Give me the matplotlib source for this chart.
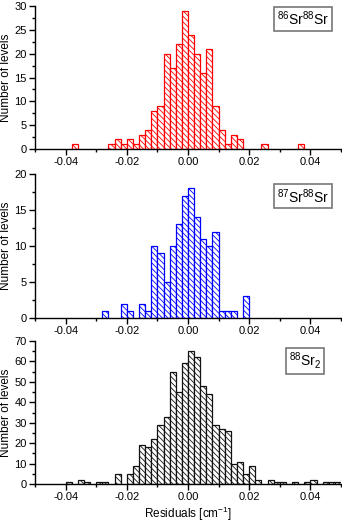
import matplotlib
matplotlib.use("Agg")
import matplotlib.pyplot as plt
from matplotlib.ticker import MultipleLocator

plt.rcParams['font.family'] = ['Liberation Sans', 'DejaVu Sans']
plt.rcParams['mathtext.default'] = 'regular'
plt.rcParams['hatch.linewidth'] = 0.6

bin_width = 0.002

# 86Sr88Sr
sr86_left = [-0.038, -0.026, -0.024, -0.022, -0.020, -0.018, -0.016, -0.014, -0.012,
             -0.010, -0.008, -0.006, -0.004, -0.002, 0.000, 0.002, 0.004, 0.006,
             0.008, 0.010, 0.012, 0.014, 0.016, 0.024, 0.036]
sr86_counts = [1, 1, 2, 1, 2, 1, 3, 4, 8,
               9, 20, 17, 22, 29, 24, 20, 16, 21,
               9, 4, 1, 3, 2, 1, 1]

# 87Sr88Sr
sr87_left = [-0.028, -0.022, -0.020, -0.016, -0.014, -0.012, -0.010, -0.008, -0.006,
             -0.004, -0.002, 0.000, 0.002, 0.004, 0.006, 0.008, 0.010, 0.012,
             0.014, 0.018]
sr87_counts = [1, 2, 1, 2, 1, 10, 9, 5, 10,
               13, 17, 18, 14, 11, 10, 12, 1, 1,
               1, 3]

# 88Sr2
sr88_left = [-0.040, -0.036, -0.034, -0.030, -0.028, -0.024, -0.020, -0.018, -0.016,
             -0.014, -0.012, -0.010, -0.008, -0.006, -0.004, -0.002, 0.000, 0.002,
             0.004, 0.006, 0.008, 0.010, 0.012, 0.014, 0.016, 0.018, 0.020,
             0.022, 0.026, 0.028, 0.030, 0.034, 0.038, 0.040, 0.044, 0.046, 0.048]
sr88_counts = [1, 2, 1, 1, 1, 5, 5, 9, 19,
               18, 22, 29, 33, 55, 45, 59, 65, 62,
               48, 44, 29, 27, 26, 10, 11, 5, 9,
               2, 2, 1, 1, 1, 1, 2, 1, 1, 1]

x_ticks = [-0.04, -0.02, 0.00, 0.02, 0.04]

panels = [
    dict(left=sr86_left, counts=sr86_counts, color='#ff0000', ymax=30, ystep=5,
         label=r'$^{86}$Sr$^{88}$Sr', box=(0.962, 0.975)),
    dict(left=sr87_left, counts=sr87_counts, color='#0000ff', ymax=20, ystep=5,
         label=r'$^{87}$Sr$^{88}$Sr', box=(0.962, 0.91)),
    dict(left=sr88_left, counts=sr88_counts, color='#111111', ymax=70, ystep=10,
         label=r'$^{88}$Sr$_{2}$', box=(0.936, 0.935)),
]

W, H = 342, 524
fig = plt.figure(figsize=(W / 100, H / 100), dpi=100)
ax_px = [(6, 149), (174, 318), (341, 484)]
left_px, right_px = 35, 341

for (top, bot), p in zip(ax_px, panels):
    ax = fig.add_axes([left_px / W, 1 - bot / H, (right_px - left_px) / W, (bot - top) / H])
    ax.bar(p['left'], p['counts'], width=bin_width, align='edge',
           facecolor='white', edgecolor=p['color'], hatch='\\' * 6, linewidth=0.9)
    ax.set_xlim(-0.05, 0.05)
    ax.set_ylim(0, p['ymax'])
    ax.set_xticks(x_ticks)
    ax.set_xticklabels(['%.2f' % v for v in x_ticks])
    ax.xaxis.set_minor_locator(MultipleLocator(0.01))
    ax.yaxis.set_major_locator(MultipleLocator(p['ystep']))
    ax.yaxis.set_minor_locator(MultipleLocator(p['ystep'] / 2))
    ax.spines['top'].set_visible(False)
    ax.spines['right'].set_visible(False)
    for s in ('left', 'bottom'):
        ax.spines[s].set_linewidth(1.0)
    ax.tick_params(axis='both', which='major', direction='out', length=4, width=1,
                   labelsize=8, pad=2)
    ax.tick_params(axis='both', which='minor', direction='out', length=2.5, width=1)
    ax.set_ylabel('Number of levels', fontsize=8.5, labelpad=2)
    ax.text(p['box'][0], p['box'][1], p['label'], transform=ax.transAxes,
            ha='right', va='top', fontsize=10,
            bbox=dict(boxstyle='square,pad=0.2', facecolor='white',
                      edgecolor='#777777', linewidth=1.2))
    if p is panels[-1]:
        ax.set_xlabel('Residuals [cm$^{-1}$]', fontsize=8.5, labelpad=1.5)

fig.savefig('out.png', dpi=100)
